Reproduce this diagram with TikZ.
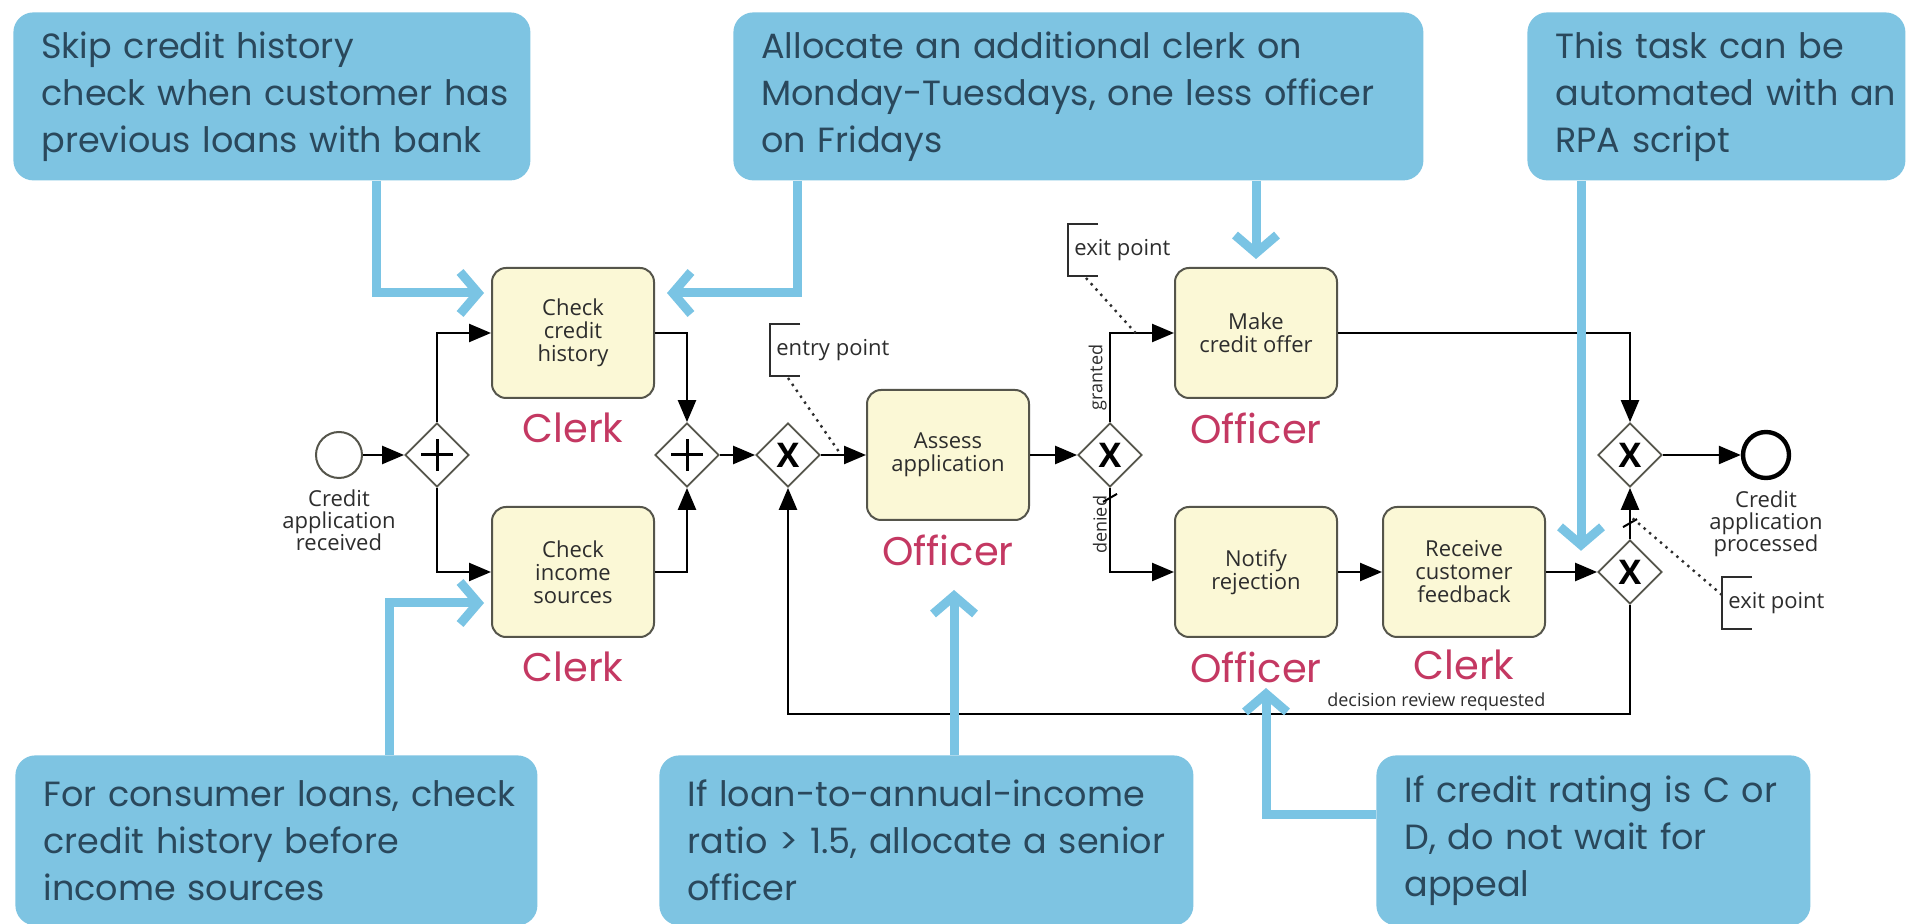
\documentclass[tikz,border=0pt]{standalone}
\usepackage{fontspec}
\setmainfont{Open Sans}
\newfontfamily\notefont{Poppins}
\usetikzlibrary{arrows.meta,positioning,shapes.geometric,calc}

\definecolor{noteblue}{RGB}{126,196,226}
\definecolor{hintblue}{RGB}{122,196,228}
\definecolor{noteink}{RGB}{42,72,92}
\definecolor{taskfill}{RGB}{251,248,214}
\definecolor{taskline}{RGB}{85,85,75}
\definecolor{rolered}{RGB}{196,56,98}
\definecolor{ink}{RGB}{45,45,45}

\begin{document}
\begin{tikzpicture}[
    x=0.5pt, y=-0.5pt,
    >={Triangle[length=11pt,width=9pt]},
    task/.style={draw=taskline, line width=1pt, rounded corners=7pt, fill=taskfill,
                 minimum width=81pt, minimum height=65pt, inner sep=2pt, align=center,
                 text=ink, font=\fontsize{11}{11.5}\selectfont},
    gw/.style={draw=taskline, line width=0.9pt, diamond, aspect=1, fill=white,
               minimum size=32pt, inner sep=0pt},
    xgw/.style={gw, font=\fontsize{17}{17}\selectfont\bfseries},
    pgw/.style={gw, path picture={
        \draw[black, line width=1.5pt]
          ([xshift=-8pt]path picture bounding box.center) -- ([xshift=8pt]path picture bounding box.center)
          ([yshift=-8pt]path picture bounding box.center) -- ([yshift=8pt]path picture bounding box.center);}},
    event/.style={circle, draw=taskline, line width=1pt, fill=white,
                  minimum size=23pt, inner sep=0pt},
    role/.style={font=\notefont\fontsize{20}{20}\selectfont, text=rolered, inner sep=0pt},
    evlbl/.style={align=center, text=ink, font=\fontsize{11}{11}\selectfont, inner sep=0pt},
    flowlbl/.style={text=ink, font=\fontsize{9}{9}\selectfont, inner sep=1pt},
    anno/.style={text=ink, font=\fontsize{11}{11}\selectfont, inner sep=0pt, anchor=west},
    bracket/.style={draw=ink, line width=0.8pt},
    assoc/.style={draw=ink, line width=1.2pt, dash pattern=on 1.2pt off 2.4pt},
    seq/.style={->, line width=1.2pt, draw=black},
    note/.style={fill=noteblue, rounded corners=10pt, anchor=north west,
                 inner xsep=14pt, inner ysep=0pt, align=left, text=noteink,
                 font=\notefont\fontsize{17.5}{23.5}\selectfont},
    hint/.style={draw=hintblue, line width=4.5pt, -{Straight Barb[length=9pt,width=21pt]}}
  ]

  \path[use as bounding box, fill=white] (0,0) rectangle (1913,924);

  %% Process flow
  \node[event] (start) at (339,455) {};
  \node[evlbl, below=5pt of start] (lstart) {Credit\\application\\received};
  \node[pgw] (and1) at (437,455) {};
  \node[task] (chk) at (573,333) {Check\\credit\\history};
  \node[task] (inc) at (573,572) {Check\\income\\sources};
  \node[pgw] (and2) at (687,455) {};
  \node[xgw] (xin) at (788,455) {X};
  \node[task] (asm) at (948,455) {Assess\\application};
  \node[xgw] (xdec) at (1110,455) {X};
  \node[task] (offer) at (1256,333) {Make\\credit offer};
  \node[task] (notify) at (1256,572) {Notify\\rejection};
  \node[task] (fdbk) at (1464,572) {Receive\\customer\\feedback};
  \node[xgw] (xout) at (1630,455) {X};
  \node[xgw] (xrev) at (1630,572) {X};
  \node[event, line width=2.2pt, draw=black] (done) at (1766,455) {};
  \node[evlbl, below=5pt of done] (ldone) {Credit\\application\\processed};

  %% Resources
  \node[role, below=7pt of chk] (rchk) {Clerk};
  \node[role, below=7pt of inc] (rinc) {Clerk};
  \node[role, below=7pt of asm] (rasm) {Officer};
  \node[role, below=7pt of offer] (roffer) {Officer};
  \node[role, below=7pt of notify] (rnotify) {Officer};
  \node[role, below=6pt of fdbk] (rfdbk) {Clerk};

  %% Sequence flows
  \draw[seq] (start) -- (and1);
  \draw[seq] (and1) |- (chk);
  \draw[seq] (and1) |- (inc);
  \draw[seq] (chk) -| (and2);
  \draw[seq] (inc) -| (and2);
  \draw[seq] (and2) -- (xin);
  \draw[seq] (xin) -- (asm);
  \draw[seq] (asm) -- (xdec);
  \draw[seq] (xdec) |- node[flowlbl, pos=0.25, anchor=south, rotate=90]{granted} (offer);
  \draw[seq] (xdec) |- node[flowlbl, pos=0.22, anchor=south, rotate=90]{denied} (notify);
  \draw[line width=1pt] ($(xdec.south)+(-7,14)$) -- ++(14,-8);
  \draw[seq] (offer) -| (xout);
  \draw[seq] (notify) -- (fdbk);
  \draw[seq] (fdbk) -- (xrev);
  \draw[seq] (xrev) -- (xout);
  \draw[line width=1pt] ($(xrev.north)+(-7,-12)$) -- ++(14,-8);
  \draw[seq] (xout) -- (done);
  \coordinate (loop) at ($(xin.south)+(0,226)$);
  \draw[seq] (xrev) |- node[flowlbl, pos=0.615, above]{decision review requested} (loop) -- (xin);

  %% Entry and exit points
  \node[anno] (aentry) at (776,350) {entry point};
  \draw[bracket] ($(aentry.west)+(24,-26)$) -- ++(-30,0) -- ++(0,52) -- ++(30,0);
  \draw[assoc] ($(aentry.west)+(12,28)$) -- ($(xin.east)!0.45!(asm.west)$);
  \node[anno] (aexit) at (1074,250) {exit point};
  \draw[bracket] ($(aexit.west)+(24,-26)$) -- ++(-30,0) -- ++(0,52) -- ++(30,0);
  \draw[assoc] ($(aexit.west)+(12,28)$) -- ($(xdec.north |- offer.west)!0.4!(offer.west)$);
  \node[anno] (aexit2) at (1728,603) {exit point};
  \draw[bracket] ($(aexit2.west)+(24,-26)$) -- ++(-30,0) -- ++(0,52) -- ++(30,0);
  \draw[assoc] ($(aexit2.west)+(-6,-8)$) -- ($(xrev.north)!0.45!(xout.south)$);

  %% Improvement notes
  \node[note, text width=230.5pt, minimum height=84pt] (nskip) at (13,12)
    {\mbox{Skip credit history}\\\mbox{check when customer has}\\\mbox{previous loans with bank}};
  \node[note, text width=317pt, minimum height=84pt] (nalloc) at (733,12)
    {\mbox{Allocate an additional clerk on}\\\mbox{Monday-Tuesdays, one less officer}\\\mbox{on Fridays}};
  \node[note, text width=161pt, minimum height=84pt] (nrpa) at (1527,12)
    {\mbox{This task can be}\\\mbox{automated with an}\\\mbox{RPA script}};
  \node[note, text width=233pt, minimum height=85pt] (ncons) at (15,755)
    {\mbox{For consumer loans, check}\\\mbox{credit history before}\\\mbox{income sources}};
  \node[note, text width=239pt, minimum height=85pt] (nsen) at (659,755)
    {\mbox{If loan-to-annual-income}\\\mbox{ratio > 1.5, allocate a senior}\\\mbox{officer}};
  \node[note, text width=189pt, minimum height=85pt] (nappeal) at (1376,755)
    {\mbox{If credit rating is C or}\\\mbox{D, do not wait for}\\\mbox{appeal}};

  %% Note pointers
  \draw[hint] ([shift={(363,0)}]nskip.south west) |- ([shift={(-7,-40)}]chk.west);
  \draw[hint] ([shift={(64,0)}]nalloc.south west) |- ([shift={(12,-40)}]chk.east);
  \draw[hint] (offer.north |- nalloc.south) -- ([yshift=4pt]offer.north);
  \draw[hint] ([shift={(54,0)}]nrpa.south west) -- ++(0,370);
  \draw[hint] ([shift={(374,0)}]ncons.north west) |- ([shift={(-7,31)}]inc.west);
  \draw[hint] ([shift={(295,0)}]nsen.north west) -- ++(0,-165);
  \draw[hint] ([shift={(0,60)}]nappeal.north west) -| ++(-110,-127);

\end{tikzpicture}
\end{document}
